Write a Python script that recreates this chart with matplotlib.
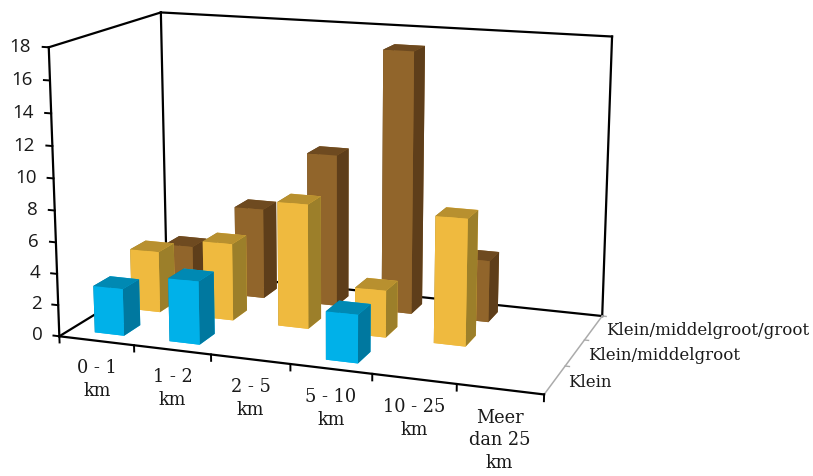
import matplotlib
matplotlib.use("Agg")
import matplotlib.pyplot as plt
import numpy as np

# afstandsklassen en bedrijfsgroottes
afstanden = ["0 - 1\nkm", "1 - 2\nkm", "2 - 5\nkm", "5 - 10\nkm", "10 - 25\nkm", "Meer\ndan 25\nkm"]
groottes = ["Klein", "Klein/middelgroot", "Klein/middelgroot/groot"]
z_ticks = [0, 2, 4, 6, 8, 10, 12, 14, 16, 18]

klein = [3, 4, 0, 3, 0, 0]
klein_middel = [4, 5, 8, 3, 8, 0]
klein_middel_groot = [3, 6, 10, 17, 4, 0]

# kleuren per vlak: voorkant, bovenkant, zijkant
kleur_blauw = ("#00B1E9", "#0089B3", "#00789F")
kleur_geel = ("#EFBA3F", "#B8902F", "#9C7F2A")
kleur_bruin = ("#91652B", "#6E4A20", "#5E3E1A")

BAR_W = 0.395
BAR_D = 0.44

W, H = 813, 477
fig = plt.figure(figsize=(W / 100, H / 100), dpi=100)
# vierkante 3D-as, groter dan de figuur zodat de doos op de juiste plek valt
ax = fig.add_axes([-82 / W, -128 / H, W / W, W / H], projection="3d", computed_zorder=False)
ax.set_proj_type("persp", focal_length=0.42)
ax.view_init(elev=13.5, azim=-70, roll=0)
ax.set_box_aspect((1.13, 0.574, 0.665), zoom=0.7508)
ax.set_axis_off()


# tekent een balk met bar3d; vlakvolgorde is onder, boven, -y, +y, -x, +x
def teken_balk(x, rij, hoogte, kleuren):
    voor, boven, zij = kleuren
    vlakken = [voor, boven, voor, voor, zij, zij]
    ax.bar3d(x + 0.53 - BAR_W / 2, rij + 0.5 - BAR_D / 2, 0, BAR_W, BAR_D, hoogte,
             color=vlakken, shade=False, linewidth=0, zorder=10 + (2 - rij) * 10 + x)


# wanden en vloer
zwart = dict(color="black", lw=1.6, solid_capstyle="projecting")
ax.plot([0, 6], [3, 3], [0, 0], zorder=1, **zwart)
ax.plot([0, 0], [0, 3], [0, 0], zorder=1, **zwart)
ax.plot([0, 0], [3, 3], [0, 18], zorder=1, **zwart)
ax.plot([6, 6], [3, 3], [0, 18], zorder=1, **zwart)
ax.plot([0, 6], [3, 3], [18, 18], zorder=1, **zwart)
ax.plot([0, 0], [0, 3], [18, 18], zorder=1, **zwart)
ax.plot([0, 0], [0, 0], [0, 18], zorder=1, **zwart)
ax.plot([0, 6], [0, 0], [0, 0], zorder=60, **zwart)
ax.plot([6, 6], [0, 3], [0, 0], color="#ABABAB", lw=1.1, zorder=1)

rijen = [klein_middel_groot, klein_middel, klein]
kleuren = [kleur_bruin, kleur_geel, kleur_blauw]
for r, (waarden, kleur) in enumerate(zip(rijen, kleuren)):
    rij = 2 - r
    for x, hoogte in enumerate(waarden):
        if hoogte > 0:
            teken_balk(x, rij, hoogte, kleur)

# streepjes en labels op de assen
for z in z_ticks:
    ax.plot([-0.08, 0], [0, 0], [z, z], color="black", lw=1.4, zorder=60)
    ax.text(-0.23, 0, z, str(z), ha="right", va="center", fontsize=13.5, family="Open Sans", color="#1a1a1a", zorder=70)

for i in range(7):
    ax.plot([i, i], [0, 0], [0, -0.4], color="black", lw=1.4, zorder=60)

for i, naam in enumerate(afstanden):
    ax.text(i + 0.5, 0, -1.1, naam, ha="center", va="top", fontsize=12.8, family="DejaVu Serif",
            linespacing=1.35, color="#1a1a1a", zorder=70)

for r in range(1, 4):
    ax.plot([6, 6.05], [r, r], [0, 0], color="#ABABAB", lw=1, zorder=1)

for r, naam in enumerate(groottes):
    ax.text(6.15, r + 0.5, 0, naam, ha="left", va="center", fontsize=12, family="DejaVu Serif",
            color="#1a1a1a", zorder=70)

# de ingebouwde assen staan uit, alles is hierboven zelf getekend
ax.set_xticks([])
ax.set_yticks([])
ax.set_zticks([])

ax.set_xlim(0, 6)
ax.set_ylim(0, 3)
ax.set_zlim(0, 18)

fig.savefig("out.png", dpi=100)
